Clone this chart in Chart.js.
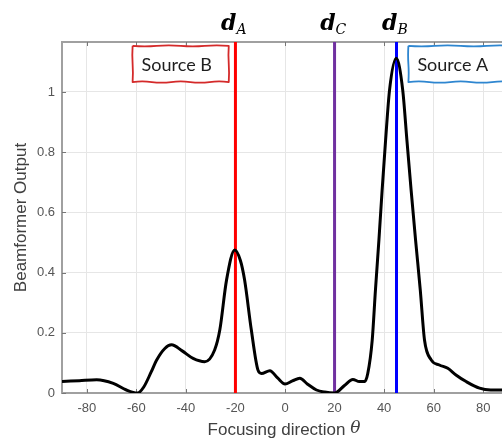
<!DOCTYPE html>
<html>
<head>
<meta charset="utf-8">
<script src="https://cdn.jsdelivr.net/npm/chart.js@4.4.0/dist/chart.umd.min.js"></script>
<style>
  html, body { margin: 0; padding: 0; background: #fff; overflow: hidden; }
  #wrap { width: 510px; height: 441px; }
</style>
</head>
<body>
<div id="wrap"><canvas id="beamChart" width="510" height="441"></canvas></div>
<script>
// focusing direction (deg) and beamformer output
const theta = [-90, -83, -76, -69.3, -64, -59.5, -57, -54, -51.9, -48.5, -45.8, -41.5, -37.1, -32.4, -28.4, -26.3, -23.6,
    -20.3, -18, -16.3, -13.6, -10.9, -9.5, -6.1, -3, 0, 3, 6, 9, 12.7, 16, 20, 24, 27.4, 30, 32.1, 33.4, 35.2,
    36.5, 37.9, 39.2, 40.6, 42.2, 44.9, 47.5, 49.2, 50.9, 52.7, 54.6, 56.3, 59, 62.3, 65.7, 69, 73.1, 78.5, 83, 90];
const output = [0.038, 0.041, 0.044, 0.032, 0.01, 0.0, 0.02, 0.07, 0.108, 0.148, 0.16, 0.14, 0.115, 0.104, 0.143, 0.21, 0.375,
    0.475, 0.44, 0.375, 0.21, 0.076, 0.065, 0.074, 0.05, 0.03, 0.04, 0.049, 0.03, 0.01, 0.003, 0.0, 0.025, 0.045, 0.038, 0.038, 0.065, 0.176,
    0.342, 0.508, 0.674, 0.84, 1.007, 1.112, 1.007, 0.84, 0.674, 0.508, 0.342, 0.176, 0.11, 0.093, 0.082, 0.06, 0.038, 0.016, 0.01, 0.01];

const xTicks = [-80, -60, -40, -20, 0, 20, 40, 60, 80];
const yTicks = [0, 0.2, 0.4, 0.6, 0.8, 1];

// steering directions
const directions = [
    { name: 'A', at: -20, color: '#ff0000' },
    { name: 'C', at: 20, color: '#7030a0' },
    { name: 'B', at: 45, color: '#0000ff' }
];

// hand drawn source boxes (data coords)
const sourceBoxes = [
    { text: 'Source B', x0: -61.5, x1: -22.7, y0: 1.153, y1: 1.033, color: '#d42a2a' },
    { text: 'Source A', x0: 49.8, x1: 92, y0: 1.153, y1: 1.033, color: '#2e86d0' }
];

const points = theta.map((t, i) => ({ x: t, y: output[i] }));

// slightly uneven edge, like a marker stroke
function wobbly(ctx, x0, y0, x1, y1, amp, waves) {
    const dx = x1 - x0, dy = y1 - y0;
    const len = Math.hypot(dx, dy);
    const nx = -dy / len, ny = dx / len;
    for (let i = 0; i < waves; i++) {
        const fa = i / waves, fb = (i + 1) / waves, fm = (fa + fb) / 2;
        const w = (i % 2 ? -1 : 1) * amp;
        ctx.quadraticCurveTo(x0 + dx * fm + nx * w, y0 + dy * fm + ny * w, x0 + dx * fb, y0 + dy * fb);
    }
}

const decorPlugin = {
    id: 'decor',
    beforeDatasetsDraw(chart) {
        const { ctx, chartArea, scales } = chart;
        const xs = scales.x, ys = scales.y;
        ctx.save();
        // top border line
        ctx.strokeStyle = '#a0a0a0';
        ctx.lineWidth = 2;
        ctx.beginPath();
        ctx.moveTo(chartArea.left, chartArea.top);
        ctx.lineTo(chartArea.right, chartArea.top);
        ctx.stroke();
        // inward ticks
        ctx.strokeStyle = '#777';
        ctx.lineWidth = 1;
        ctx.beginPath();
        xTicks.forEach(v => {
            const px = Math.round(xs.getPixelForValue(v)) + 0.5;
            ctx.moveTo(px, chartArea.bottom); ctx.lineTo(px, chartArea.bottom - 4);
            ctx.moveTo(px, chartArea.top); ctx.lineTo(px, chartArea.top + 4);
        });
        yTicks.forEach(v => {
            const py = Math.round(ys.getPixelForValue(v)) + 0.5;
            ctx.moveTo(chartArea.left, py); ctx.lineTo(chartArea.left + 4, py);
        });
        ctx.stroke();
        // direction lines
        directions.forEach(d => {
            const px = xs.getPixelForValue(d.at);
            ctx.strokeStyle = d.color;
            ctx.lineWidth = 3;
            ctx.beginPath();
            ctx.moveTo(px, chartArea.top);
            ctx.lineTo(px, chartArea.bottom);
            ctx.stroke();
        });
        ctx.restore();
    },
    afterDraw(chart) {
        const { ctx, chartArea, scales } = chart;
        const xs = scales.x, ys = scales.y;
        ctx.save();
        // d labels
        directions.forEach(d => {
            const px = xs.getPixelForValue(d.at);
            ctx.fillStyle = '#000';
            ctx.textBaseline = 'alphabetic';
            ctx.font = 'bold italic 22px "DejaVu Serif"';
            ctx.textAlign = 'right';
            ctx.fillText('d', px + 1, 30);
            ctx.font = 'italic 14px "DejaVu Serif"';
            ctx.textAlign = 'left';
            ctx.fillText(d.name, px + 1, 34);
        });
        // source boxes
        sourceBoxes.forEach(b => {
            const x0 = xs.getPixelForValue(b.x0), x1 = xs.getPixelForValue(b.x1);
            const y0 = ys.getPixelForValue(b.y0), y1 = ys.getPixelForValue(b.y1);
            ctx.fillStyle = '#fff';
            ctx.fillRect(x0, y0, x1 - x0, y1 - y0);
            ctx.strokeStyle = b.color;
            ctx.lineWidth = 1.8;
            ctx.lineJoin = 'round';
            ctx.beginPath();
            ctx.moveTo(x0, y0);
            wobbly(ctx, x0, y0, x1, y0, 1, 4);
            wobbly(ctx, x1, y0, x1, y1, 0.6, 2);
            wobbly(ctx, x1, y1, x0, y1, 1.2, 5);
            wobbly(ctx, x0, y1, x0, y0, 0.6, 2);
            ctx.stroke();
            ctx.fillStyle = '#1e1e1e';
            ctx.font = '18px Lato';
            ctx.textAlign = 'left';
            ctx.textBaseline = 'middle';
            ctx.fillText(b.text, x0 + 9, (y0 + y1) / 2 + 1);
        });
        // axis titles
        ctx.fillStyle = '#404040';
        ctx.textBaseline = 'middle';
        ctx.font = '17px "Liberation Sans"';
        const label = 'Focusing direction ';
        const w1 = ctx.measureText(label).width;
        ctx.font = 'italic 17px "DejaVu Serif"';
        const w2 = ctx.measureText('θ').width;
        const cx = (chartArea.left + chartArea.right) / 2 - 1;
        let sx = cx - (w1 + w2) / 2;
        ctx.textAlign = 'left';
        ctx.font = '17px "Liberation Sans"';
        ctx.fillText(label, sx, 430);
        ctx.font = 'italic 17px "DejaVu Serif"';
        ctx.fillText('θ', sx + w1, 429);
        ctx.translate(21, (chartArea.top + chartArea.bottom) / 2);
        ctx.rotate(-Math.PI / 2);
        ctx.textAlign = 'center';
        ctx.font = '17px "Liberation Sans"';
        ctx.fillText('Beamformer Output', 0, 0);
        ctx.restore();
    }
};

new Chart(document.getElementById('beamChart').getContext('2d'), {
    type: 'line',
    data: {
        datasets: [{
            data: points,
            borderColor: '#000',
            borderWidth: 3,
            pointRadius: 0,
            fill: false,
            cubicInterpolationMode: 'monotone'
        }]
    },
    options: {
        responsive: false,
        animation: false,
        layout: { padding: { top: 42, right: 2, left: 0, bottom: 0 } },
        plugins: { legend: { display: false }, tooltip: { enabled: false } },
        scales: {
            x: {
                type: 'linear',
                min: -90,
                max: 90,
                afterFit: s => { s.height = 48; },
                afterBuildTicks: s => { s.ticks = xTicks.map(v => ({ value: v })); },
                grid: { color: '#e6e6e6', drawTicks: false },
                border: { color: '#a0a0a0', width: 2 },
                ticks: { padding: 8, color: '#555', font: { family: 'Liberation Sans', size: 13 }, maxRotation: 0,
                    callback: v => String(v) }
            },
            y: {
                min: 0,
                max: 1.166,
                afterFit: s => { s.width = 62; },
                afterBuildTicks: s => { s.ticks = yTicks.map(v => ({ value: v })); },
                grid: { color: '#e6e6e6', drawTicks: false },
                border: { color: '#a0a0a0', width: 2 },
                ticks: { padding: 7, color: '#555', font: { family: 'Liberation Sans', size: 13 },
                    callback: v => String(v) }
            }
        }
    },
    plugins: [decorPlugin]
});
</script>
</body>
</html>
